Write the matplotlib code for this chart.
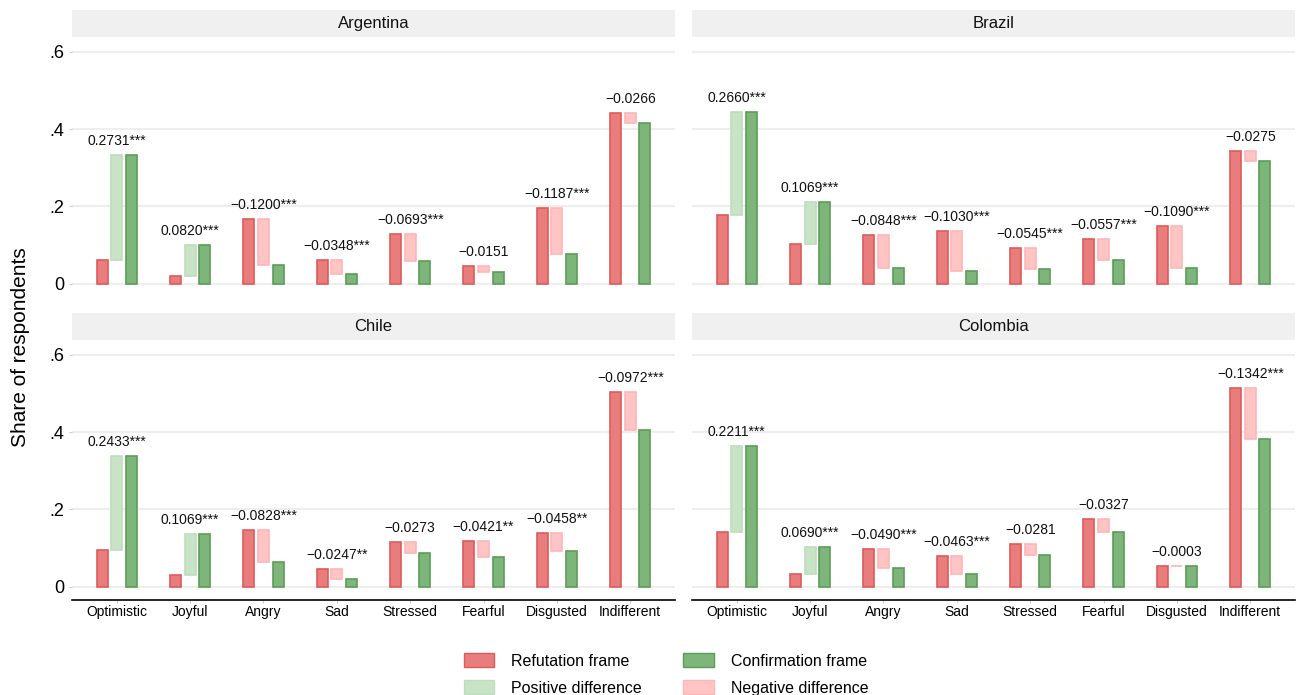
import numpy as np
import matplotlib
matplotlib.use("Agg")
import matplotlib.pyplot as plt
from matplotlib.patches import Rectangle, Patch

plt.rcParams['font.family'] = ['Liberation Sans', 'DejaVu Sans']

emotions = ['Optimistic', 'Joyful', 'Angry', 'Sad', 'Stressed', 'Fearful', 'Disgusted', 'Indifferent']
countries = ['Argentina', 'Brazil', 'Chile', 'Colombia']

# share of respondents under each frame
refutation = {
    'Argentina': [0.0606, 0.0190, 0.1680, 0.0608, 0.1290, 0.0461, 0.1957, 0.4426],
    'Brazil':    [0.1790, 0.1041, 0.1258, 0.1370, 0.0920, 0.1167, 0.1490, 0.3440],
    'Chile':     [0.0950, 0.0301, 0.1458, 0.0450, 0.1153, 0.1181, 0.1388, 0.5030],
    'Colombia':  [0.1429, 0.0340, 0.0970, 0.0797, 0.1101, 0.1747, 0.0535, 0.5152],
}
confirmation = {
    'Argentina': [0.3337, 0.1010, 0.0480, 0.0260, 0.0597, 0.0310, 0.0770, 0.4160],
    'Brazil':    [0.4450, 0.2110, 0.0410, 0.0340, 0.0375, 0.0610, 0.0400, 0.3165],
    'Chile':     [0.3383, 0.1370, 0.0630, 0.0203, 0.0880, 0.0760, 0.0930, 0.4058],
    'Colombia':  [0.3640, 0.1030, 0.0480, 0.0334, 0.0820, 0.1420, 0.0532, 0.3810],
}
# confirmation minus refutation, with significance stars
difference = {
    'Argentina': [0.2731, 0.0820, -0.1200, -0.0348, -0.0693, -0.0151, -0.1187, -0.0266],
    'Brazil':    [0.2660, 0.1069, -0.0848, -0.1030, -0.0545, -0.0557, -0.1090, -0.0275],
    'Chile':     [0.2433, 0.1069, -0.0828, -0.0247, -0.0273, -0.0421, -0.0458, -0.0972],
    'Colombia':  [0.2211, 0.0690, -0.0490, -0.0463, -0.0281, -0.0327, -0.0003, -0.1342],
}
stars = {
    'Argentina': ['***', '***', '***', '***', '***', '', '***', ''],
    'Brazil':    ['***', '***', '***', '***', '***', '***', '***', ''],
    'Chile':     ['***', '***', '***', '**', '', '**', '**', '***'],
    'Colombia':  ['***', '***', '***', '***', '', '', '', '***'],
}

yticks = [0, 0.2, 0.4, 0.6]
ytick_labels = ['0', '.2', '.4', '.6']

red_fill, red_edge = '#e97c7c', '#df5b5b'
green_fill, green_edge = '#7db57a', '#5b9d57'
pos_fill, pos_edge = '#c8e3c6', '#bfdcbd'
neg_fill, neg_edge = '#ffc4c4', '#ffb6b6'

W, H = 1304, 695
fig = plt.figure(figsize=(W / 100, H / 100), dpi=100)

panel_w = 603
lefts = [72, 692]
tops = [37, 340]
panel_h = 260
strip_h = 27

x = np.arange(1, len(emotions) + 1)
off, bw = 0.2, 0.15

for i, country in enumerate(countries):
    row, col = divmod(i, 2)
    ax = fig.add_axes([lefts[col] / W, 1 - (tops[row] + panel_h) / H, panel_w / W, panel_h / H])

    ref = np.array(refutation[country])
    conf = np.array(confirmation[country])
    diff = np.array(difference[country])

    ax.bar(x - off, ref, bw, color=red_fill, edgecolor=red_edge, linewidth=1.2, zorder=3)
    ax.bar(x + off, conf, bw, color=green_fill, edgecolor=green_edge, linewidth=1.2, zorder=3)
    fills = [pos_fill if d > 0 else neg_fill for d in diff]
    edges = [pos_edge if d > 0 else neg_edge for d in diff]
    ax.bar(x, diff, bw, bottom=ref, color=fills, edgecolor=edges, linewidth=1.2, zorder=3)

    for xi, r, c, d, s in zip(x, ref, conf, diff, stars[country]):
        txt = f'{d:.4f}'.replace('-', '\u2212') + s
        ax.annotate(txt, (xi, max(r, c, r + d)), xytext=(0, 5), textcoords='offset points',
                    ha='center', va='bottom', fontsize=10, color='#111111')

    ax.set_xlim(0.39, 8.61)
    ax.set_ylim(-0.034, 0.638)
    ax.set_yticks(yticks)
    ax.grid(axis='y', color='#eeeeee', linewidth=1.5, zorder=0)
    for sp in ['top', 'right', 'left']:
        ax.spines[sp].set_visible(False)

    if col == 0:
        ax.set_yticklabels(ytick_labels, fontsize=13)
        ax.tick_params(axis='y', length=2.5, color='#cccccc', pad=3)
    else:
        ax.set_yticklabels([])
        ax.tick_params(axis='y', length=0)

    if row == 1:
        ax.set_xticks(x)
        ax.set_xticklabels(emotions, fontsize=10)
        ax.tick_params(axis='x', length=2.5, color='#cccccc', pad=1)
        ax.spines['bottom'].set_color('black')
        ax.spines['bottom'].set_linewidth(1.2)
    else:
        ax.set_xticks([])
        ax.spines['bottom'].set_visible(False)

    # facet header strip
    strip = Rectangle((0, 1), 1, strip_h / panel_h, transform=ax.transAxes,
                      facecolor='#f0f0f0', edgecolor='none', clip_on=False)
    ax.add_patch(strip)
    ax.text(0.5, 1 + strip_h / panel_h / 2, country, transform=ax.transAxes,
            ha='center', va='center', fontsize=12, color='#111111')

fig.text(21 / W, 0.5, 'Share of respondents', rotation=90, ha='center', va='center',
         fontsize=15)

handles = [
    Patch(facecolor=red_fill, edgecolor=red_edge, label='Refutation frame'),
    Patch(facecolor=pos_fill, edgecolor=pos_edge, label='Positive difference'),
    Patch(facecolor=green_fill, edgecolor=green_edge, label='Confirmation frame'),
    Patch(facecolor=neg_fill, edgecolor=neg_edge, label='Negative difference'),
]
fig.legend(handles=handles, ncol=2, loc='upper left', bbox_to_anchor=(464 / W, 1 - 653 / H),
           frameon=False, fontsize=11.5, handlelength=1.9, handleheight=1.0,
           handletextpad=1.05, labelspacing=0.72, columnspacing=2.6, borderaxespad=0,
           borderpad=0)

fig.savefig('out.png', dpi=100)
